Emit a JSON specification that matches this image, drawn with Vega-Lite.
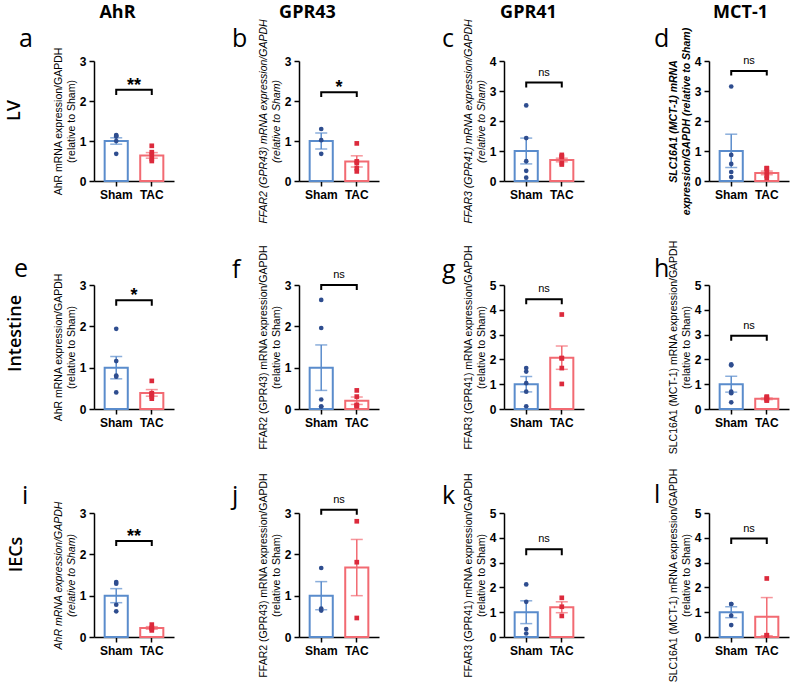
{
"$schema": "https://vega.github.io/schema/vega-lite/v6.json",
"background": "white",
"padding": {"left": 5, "top": 3, "right": 5, "bottom": 5},
"datasets": {"d": [
{"t":"p","p":"a","g":"Sham","v":1.13},{"t":"p","p":"a","g":"Sham","v":1.15},{"t":"p","p":"a","g":"Sham","v":1.11},{"t":"p","p":"a","g":"Sham","v":1.0},{"t":"p","p":"a","g":"Sham","v":0.68},
{"t":"p","p":"a","g":"TAC","v":0.88},{"t":"p","p":"a","g":"TAC","v":0.72},{"t":"p","p":"a","g":"TAC","v":0.65},{"t":"p","p":"a","g":"TAC","v":0.55},{"t":"p","p":"a","g":"TAC","v":0.5},
{"t":"p","p":"b","g":"Sham","v":1.3},{"t":"p","p":"b","g":"Sham","v":1.02},{"t":"p","p":"b","g":"Sham","v":0.68},
{"t":"p","p":"b","g":"TAC","v":0.94},{"t":"p","p":"b","g":"TAC","v":0.49},{"t":"p","p":"b","g":"TAC","v":0.45},{"t":"p","p":"b","g":"TAC","v":0.32},{"t":"p","p":"b","g":"TAC","v":0.24},
{"t":"p","p":"c","g":"Sham","v":2.52},{"t":"p","p":"c","g":"Sham","v":1.43},{"t":"p","p":"c","g":"Sham","v":0.66},{"t":"p","p":"c","g":"Sham","v":0.34},{"t":"p","p":"c","g":"Sham","v":0.11},
{"t":"p","p":"c","g":"TAC","v":0.87},{"t":"p","p":"c","g":"TAC","v":0.82},{"t":"p","p":"c","g":"TAC","v":0.8},{"t":"p","p":"c","g":"TAC","v":0.6},{"t":"p","p":"c","g":"TAC","v":0.55},
{"t":"p","p":"d","g":"Sham","v":3.15},{"t":"p","p":"d","g":"Sham","v":0.87},{"t":"p","p":"d","g":"Sham","v":0.57},{"t":"p","p":"d","g":"Sham","v":0.3},{"t":"p","p":"d","g":"Sham","v":0.13},
{"t":"p","p":"d","g":"TAC","v":0.43},{"t":"p","p":"d","g":"TAC","v":0.42},{"t":"p","p":"d","g":"TAC","v":0.3},{"t":"p","p":"d","g":"TAC","v":0.17},{"t":"p","p":"d","g":"TAC","v":0.1},
{"t":"p","p":"e","g":"Sham","v":1.94},{"t":"p","p":"e","g":"Sham","v":1.16},{"t":"p","p":"e","g":"Sham","v":0.81},{"t":"p","p":"e","g":"Sham","v":0.78},{"t":"p","p":"e","g":"Sham","v":0.4},
{"t":"p","p":"e","g":"TAC","v":0.68},{"t":"p","p":"e","g":"TAC","v":0.38},{"t":"p","p":"e","g":"TAC","v":0.36},{"t":"p","p":"e","g":"TAC","v":0.3},{"t":"p","p":"e","g":"TAC","v":0.25},
{"t":"p","p":"f","g":"Sham","v":2.64},{"t":"p","p":"f","g":"Sham","v":1.96},{"t":"p","p":"f","g":"Sham","v":0.23},{"t":"p","p":"f","g":"Sham","v":0.06},{"t":"p","p":"f","g":"Sham","v":0.06},
{"t":"p","p":"f","g":"TAC","v":0.45},{"t":"p","p":"f","g":"TAC","v":0.3},{"t":"p","p":"f","g":"TAC","v":0.1},{"t":"p","p":"f","g":"TAC","v":0.08},{"t":"p","p":"f","g":"TAC","v":0.07},
{"t":"p","p":"g","g":"Sham","v":1.65},{"t":"p","p":"g","g":"Sham","v":1.51},{"t":"p","p":"g","g":"Sham","v":1.04},{"t":"p","p":"g","g":"Sham","v":0.7},{"t":"p","p":"g","g":"Sham","v":0.11},
{"t":"p","p":"g","g":"TAC","v":3.81},{"t":"p","p":"g","g":"TAC","v":2.05},{"t":"p","p":"g","g":"TAC","v":2.05},{"t":"p","p":"g","g":"TAC","v":1.65},{"t":"p","p":"g","g":"TAC","v":1.01},
{"t":"p","p":"h","g":"Sham","v":1.8},{"t":"p","p":"h","g":"Sham","v":1.76},{"t":"p","p":"h","g":"Sham","v":0.7},{"t":"p","p":"h","g":"Sham","v":0.64},{"t":"p","p":"h","g":"Sham","v":0.27},
{"t":"p","p":"h","g":"TAC","v":0.5},{"t":"p","p":"h","g":"TAC","v":0.47},{"t":"p","p":"h","g":"TAC","v":0.42},{"t":"p","p":"h","g":"TAC","v":0.36},{"t":"p","p":"h","g":"TAC","v":0.34},
{"t":"p","p":"i","g":"Sham","v":1.33},{"t":"p","p":"i","g":"Sham","v":1.29},{"t":"p","p":"i","g":"Sham","v":0.78},{"t":"p","p":"i","g":"Sham","v":0.62},
{"t":"p","p":"i","g":"TAC","v":0.3},{"t":"p","p":"i","g":"TAC","v":0.22},{"t":"p","p":"i","g":"TAC","v":0.2},{"t":"p","p":"i","g":"TAC","v":0.16},
{"t":"p","p":"j","g":"Sham","v":1.67},{"t":"p","p":"j","g":"Sham","v":0.69},{"t":"p","p":"j","g":"Sham","v":0.64},
{"t":"p","p":"j","g":"TAC","v":2.8},{"t":"p","p":"j","g":"TAC","v":1.81},{"t":"p","p":"j","g":"TAC","v":0.46},
{"t":"p","p":"k","g":"Sham","v":2.12},{"t":"p","p":"k","g":"Sham","v":1.42},{"t":"p","p":"k","g":"Sham","v":0.32},{"t":"p","p":"k","g":"Sham","v":0.14},
{"t":"p","p":"k","g":"TAC","v":1.58},{"t":"p","p":"k","g":"TAC","v":1.22},{"t":"p","p":"k","g":"TAC","v":0.85},
{"t":"p","p":"l","g":"Sham","v":1.33},{"t":"p","p":"l","g":"Sham","v":1.33},{"t":"p","p":"l","g":"Sham","v":0.86},{"t":"p","p":"l","g":"Sham","v":0.48},
{"t":"p","p":"l","g":"TAC","v":2.36},{"t":"p","p":"l","g":"TAC","v":0.07},{"t":"p","p":"l","g":"TAC","v":0.07},
{"t":"m","p":"a","g":"Sham","v":1.0,"lo":0.92,"hi":1.08},{"t":"m","p":"a","g":"TAC","v":0.64,"lo":0.57,"hi":0.71},
{"t":"m","p":"b","g":"Sham","v":1.0,"lo":0.8,"hi":1.2},{"t":"m","p":"b","g":"TAC","v":0.49,"lo":0.35,"hi":0.63},
{"t":"m","p":"c","g":"Sham","v":1.0,"lo":0.57,"hi":1.43},{"t":"m","p":"c","g":"TAC","v":0.7,"lo":0.64,"hi":0.76},
{"t":"m","p":"d","g":"Sham","v":1.0,"lo":0.45,"hi":1.56},{"t":"m","p":"d","g":"TAC","v":0.27,"lo":0.21,"hi":0.33},
{"t":"m","p":"e","g":"Sham","v":1.0,"lo":0.73,"hi":1.27},{"t":"m","p":"e","g":"TAC","v":0.39,"lo":0.31,"hi":0.47},
{"t":"m","p":"f","g":"Sham","v":1.0,"lo":0.45,"hi":1.55},{"t":"m","p":"f","g":"TAC","v":0.2,"lo":0.11,"hi":0.29},
{"t":"m","p":"g","g":"Sham","v":1.0,"lo":0.69,"hi":1.31},{"t":"m","p":"g","g":"TAC","v":2.07,"lo":1.6,"hi":2.54},
{"t":"m","p":"h","g":"Sham","v":1.0,"lo":0.68,"hi":1.32},{"t":"m","p":"h","g":"TAC","v":0.41,"lo":0.38,"hi":0.44},
{"t":"m","p":"i","g":"Sham","v":1.0,"lo":0.83,"hi":1.17},{"t":"m","p":"i","g":"TAC","v":0.22,"lo":0.19,"hi":0.25},
{"t":"m","p":"j","g":"Sham","v":1.0,"lo":0.66,"hi":1.34},{"t":"m","p":"j","g":"TAC","v":1.68,"lo":1.0,"hi":2.36},
{"t":"m","p":"k","g":"Sham","v":1.0,"lo":0.54,"hi":1.46},{"t":"m","p":"k","g":"TAC","v":1.2,"lo":0.98,"hi":1.42},
{"t":"m","p":"l","g":"Sham","v":1.0,"lo":0.78,"hi":1.22},{"t":"m","p":"l","g":"TAC","v":0.82,"lo":0.05,"hi":1.59},
{"t":"b","p":"a","g":"Sham","v":2.15,"k":1},{"t":"b","p":"a","g":"Sham","v":2.28,"k":2},{"t":"b","p":"a","g":"TAC","v":2.28,"k":3},{"t":"b","p":"a","g":"TAC","v":2.15,"k":4},
{"t":"b","p":"b","g":"Sham","v":2.1,"k":1},{"t":"b","p":"b","g":"Sham","v":2.22,"k":2},{"t":"b","p":"b","g":"TAC","v":2.22,"k":3},{"t":"b","p":"b","g":"TAC","v":2.1,"k":4},
{"t":"b","p":"c","g":"Sham","v":3.12,"k":1},{"t":"b","p":"c","g":"Sham","v":3.28,"k":2},{"t":"b","p":"c","g":"TAC","v":3.28,"k":3},{"t":"b","p":"c","g":"TAC","v":3.12,"k":4},
{"t":"b","p":"d","g":"Sham","v":3.52,"k":1},{"t":"b","p":"d","g":"Sham","v":3.67,"k":2},{"t":"b","p":"d","g":"TAC","v":3.67,"k":3},{"t":"b","p":"d","g":"TAC","v":3.52,"k":4},
{"t":"b","p":"e","g":"Sham","v":2.5,"k":1},{"t":"b","p":"e","g":"Sham","v":2.63,"k":2},{"t":"b","p":"e","g":"TAC","v":2.63,"k":3},{"t":"b","p":"e","g":"TAC","v":2.5,"k":4},
{"t":"b","p":"f","g":"Sham","v":2.88,"k":1},{"t":"b","p":"f","g":"Sham","v":3.0,"k":2},{"t":"b","p":"f","g":"TAC","v":3.0,"k":3},{"t":"b","p":"f","g":"TAC","v":2.88,"k":4},
{"t":"b","p":"g","g":"Sham","v":4.22,"k":1},{"t":"b","p":"g","g":"Sham","v":4.43,"k":2},{"t":"b","p":"g","g":"TAC","v":4.43,"k":3},{"t":"b","p":"g","g":"TAC","v":4.22,"k":4},
{"t":"b","p":"h","g":"Sham","v":2.75,"k":1},{"t":"b","p":"h","g":"Sham","v":2.95,"k":2},{"t":"b","p":"h","g":"TAC","v":2.95,"k":3},{"t":"b","p":"h","g":"TAC","v":2.75,"k":4},
{"t":"b","p":"i","g":"Sham","v":2.2,"k":1},{"t":"b","p":"i","g":"Sham","v":2.32,"k":2},{"t":"b","p":"i","g":"TAC","v":2.32,"k":3},{"t":"b","p":"i","g":"TAC","v":2.2,"k":4},
{"t":"b","p":"j","g":"Sham","v":2.96,"k":1},{"t":"b","p":"j","g":"Sham","v":3.08,"k":2},{"t":"b","p":"j","g":"TAC","v":3.08,"k":3},{"t":"b","p":"j","g":"TAC","v":2.96,"k":4},
{"t":"b","p":"k","g":"Sham","v":3.3,"k":1},{"t":"b","p":"k","g":"Sham","v":3.54,"k":2},{"t":"b","p":"k","g":"TAC","v":3.54,"k":3},{"t":"b","p":"k","g":"TAC","v":3.3,"k":4},
{"t":"b","p":"l","g":"Sham","v":3.75,"k":1},{"t":"b","p":"l","g":"Sham","v":3.97,"k":2},{"t":"b","p":"l","g":"TAC","v":3.97,"k":3},{"t":"b","p":"l","g":"TAC","v":3.75,"k":4},
{"t":"l","p":"a","v":2.28,"s":"**"},{"t":"l","p":"b","v":2.22,"s":"*"},{"t":"l","p":"c","v":3.28,"s":"ns"},{"t":"l","p":"d","v":3.67,"s":"ns"},
{"t":"l","p":"e","v":2.63,"s":"*"},{"t":"l","p":"f","v":3.0,"s":"ns"},{"t":"l","p":"g","v":4.43,"s":"ns"},{"t":"l","p":"h","v":2.95,"s":"ns"},
{"t":"l","p":"i","v":2.32,"s":"**"},{"t":"l","p":"j","v":3.08,"s":"ns"},{"t":"l","p":"k","v":3.54,"s":"ns"},{"t":"l","p":"l","v":3.97,"s":"ns"}
]},
"columns": 4,
"bounds": "flush",
"align": "each",
"spacing": {"row": 104, "column": 125},
"concat": [
{"width":80,"height":120,"data":{"name":"d"},"transform":[{"filter":"datum.p=='a'"}],
 "title":{"text":"a","dx":-75,"offset":-49},
 "resolve":{"axis":{"x":"independent","y":"independent"}},
 "layer":[
  {"transform":[{"filter":"datum.t=='m'"}],"mark":{"type":"bar","fill":"white","strokeWidth":2},"encoding":{"x":{"field":"g","type":"nominal","axis":{"title":null}},"y":{"field":"v","type":"quantitative","scale":{"domain":[0,3]},"axis":{"values":[0,1,2,3],"title":["AhR mRNA expression/GAPDH","(relative to Sham)"]}},"stroke":{"field":"g","type":"nominal","scale":{"range":["#5a8ccc","#f26a72"]}}}},
  {"transform":[{"filter":"datum.t=='m'"}],"mark":{"type":"rule","strokeWidth":1.5},"encoding":{"x":{"field":"g","type":"nominal","axis":null},"y":{"field":"lo","type":"quantitative","axis":null},"y2":{"field":"hi"},"stroke":{"field":"g","type":"nominal"}}},
  {"transform":[{"filter":"datum.t=='m'"},{"fold":["lo","hi"]}],"mark":{"type":"tick","size":12,"thickness":1.5},"encoding":{"x":{"field":"g","type":"nominal","axis":null},"y":{"field":"value","type":"quantitative","axis":null},"fill":{"field":"g","type":"nominal","scale":{"range":["#5a8ccc","#f26a72"]}}}},
  {"transform":[{"filter":"datum.t=='p'"}],"mark":{"type":"point","filled":true,"size":22,"opacity":1},"encoding":{"x":{"field":"g","type":"nominal","axis":null},"y":{"field":"v","type":"quantitative","axis":null},"color":{"field":"g","type":"nominal"},"shape":{"field":"g","type":"nominal"}}},
  {"transform":[{"filter":"datum.t=='b'"}],"mark":{"type":"line","color":"black","strokeWidth":2},"encoding":{"x":{"field":"g","type":"nominal","axis":{"orient":"top","title":"AhR","titleX":23,"titleY":-49,"titleAlign":"center","titleBaseline":"middle","titleAngle":0,"titleFontSize":18,"titleFontWeight":"bold","titleFont":"Open Sans","titleColor":"black","labels":false,"ticks":false,"domain":false}},"y":{"field":"v","type":"quantitative","axis":{"orient":"right","title":"LV","titleX":-160,"titleY":49,"titleAngle":270,"titleAlign":"center","titleBaseline":"middle","titleFontSize":18,"titleFontWeight":600,"titleFont":"Open Sans","titleColor":"black","labels":false,"ticks":false,"domain":false}},"order":{"field":"k","type":"quantitative"}}},
  {"transform":[{"filter":"datum.t=='l'"}],"mark":{"type":"text","fontSize":18,"fontWeight":"bold","baseline":"alphabetic","dy":1},"encoding":{"y":{"field":"v","type":"quantitative","axis":null},"text":{"field":"s","type":"nominal"}}}
 ]},
{"width":80,"height":120,"data":{"name":"d"},"transform":[{"filter":"datum.p=='b'"}],
 "title":{"text":"b","dx":-67,"offset":-49},
 "resolve":{"axis":{"x":"independent","y":"independent"}},
 "layer":[
  {"transform":[{"filter":"datum.t=='m'"}],"mark":{"type":"bar","fill":"white","strokeWidth":2},"encoding":{"x":{"field":"g","type":"nominal","axis":{"title":null}},"y":{"field":"v","type":"quantitative","scale":{"domain":[0,3]},"axis":{"values":[0,1,2,3],"title":["FFAR2 (GPR43) mRNA expression/GAPDH","(relative to Sham)"],"titleFontStyle":"italic"}},"stroke":{"field":"g","type":"nominal","scale":{"range":["#5a8ccc","#f26a72"]}}}},
  {"transform":[{"filter":"datum.t=='m'"}],"mark":{"type":"rule","strokeWidth":1.5},"encoding":{"x":{"field":"g","type":"nominal","axis":null},"y":{"field":"lo","type":"quantitative","axis":null},"y2":{"field":"hi"},"stroke":{"field":"g","type":"nominal"}}},
  {"transform":[{"filter":"datum.t=='m'"},{"fold":["lo","hi"]}],"mark":{"type":"tick","size":12,"thickness":1.5},"encoding":{"x":{"field":"g","type":"nominal","axis":null},"y":{"field":"value","type":"quantitative","axis":null},"fill":{"field":"g","type":"nominal","scale":{"range":["#5a8ccc","#f26a72"]}}}},
  {"transform":[{"filter":"datum.t=='p'"}],"mark":{"type":"point","filled":true,"size":22,"opacity":1},"encoding":{"x":{"field":"g","type":"nominal","axis":null},"y":{"field":"v","type":"quantitative","axis":null},"color":{"field":"g","type":"nominal"},"shape":{"field":"g","type":"nominal"}}},
  {"transform":[{"filter":"datum.t=='b'"}],"mark":{"type":"line","color":"black","strokeWidth":2},"encoding":{"x":{"field":"g","type":"nominal","axis":{"orient":"top","title":"GPR43","titleX":8,"titleY":-49,"titleAlign":"center","titleBaseline":"middle","titleAngle":0,"titleFontSize":18,"titleFontWeight":"bold","titleFont":"Open Sans","titleColor":"black","labels":false,"ticks":false,"domain":false}},"y":{"field":"v","type":"quantitative","axis":null},"order":{"field":"k","type":"quantitative"}}},
  {"transform":[{"filter":"datum.t=='l'"}],"mark":{"type":"text","fontSize":18,"fontWeight":"bold","baseline":"alphabetic","dy":1},"encoding":{"y":{"field":"v","type":"quantitative","axis":null},"text":{"field":"s","type":"nominal"}}}
 ]},
{"width":80,"height":120,"data":{"name":"d"},"transform":[{"filter":"datum.p=='c'"}],
 "title":{"text":"c","dx":-62,"offset":-49},
 "resolve":{"axis":{"x":"independent","y":"independent"}},
 "layer":[
  {"transform":[{"filter":"datum.t=='m'"}],"mark":{"type":"bar","fill":"white","strokeWidth":2},"encoding":{"x":{"field":"g","type":"nominal","axis":{"title":null}},"y":{"field":"v","type":"quantitative","scale":{"domain":[0,4]},"axis":{"values":[0,1,2,3,4],"title":["FFAR3 (GPR41) mRNA expression/GAPDH","(relative to Sham)"],"titleFontStyle":"italic"}},"stroke":{"field":"g","type":"nominal","scale":{"range":["#5a8ccc","#f26a72"]}}}},
  {"transform":[{"filter":"datum.t=='m'"}],"mark":{"type":"rule","strokeWidth":1.5},"encoding":{"x":{"field":"g","type":"nominal","axis":null},"y":{"field":"lo","type":"quantitative","axis":null},"y2":{"field":"hi"},"stroke":{"field":"g","type":"nominal"}}},
  {"transform":[{"filter":"datum.t=='m'"},{"fold":["lo","hi"]}],"mark":{"type":"tick","size":12,"thickness":1.5},"encoding":{"x":{"field":"g","type":"nominal","axis":null},"y":{"field":"value","type":"quantitative","axis":null},"fill":{"field":"g","type":"nominal","scale":{"range":["#5a8ccc","#f26a72"]}}}},
  {"transform":[{"filter":"datum.t=='p'"}],"mark":{"type":"point","filled":true,"size":22,"opacity":1},"encoding":{"x":{"field":"g","type":"nominal","axis":null},"y":{"field":"v","type":"quantitative","axis":null},"color":{"field":"g","type":"nominal"},"shape":{"field":"g","type":"nominal"}}},
  {"transform":[{"filter":"datum.t=='b'"}],"mark":{"type":"line","color":"black","strokeWidth":2},"encoding":{"x":{"field":"g","type":"nominal","axis":{"orient":"top","title":"GPR41","titleX":24,"titleY":-49,"titleAlign":"center","titleBaseline":"middle","titleAngle":0,"titleFontSize":18,"titleFontWeight":"bold","titleFont":"Open Sans","titleColor":"black","labels":false,"ticks":false,"domain":false}},"y":{"field":"v","type":"quantitative","axis":null},"order":{"field":"k","type":"quantitative"}}},
  {"transform":[{"filter":"datum.t=='l'"}],"mark":{"type":"text","fontSize":11,"baseline":"alphabetic","dy":-7},"encoding":{"y":{"field":"v","type":"quantitative","axis":null},"text":{"field":"s","type":"nominal"}}}
 ]},
{"width":80,"height":120,"data":{"name":"d"},"transform":[{"filter":"datum.p=='d'"}],
 "title":{"text":"d","dx":-55,"offset":-49},
 "resolve":{"axis":{"x":"independent","y":"independent"}},
 "layer":[
  {"transform":[{"filter":"datum.t=='m'"}],"mark":{"type":"bar","fill":"white","strokeWidth":2},"encoding":{"x":{"field":"g","type":"nominal","axis":{"title":null}},"y":{"field":"v","type":"quantitative","scale":{"domain":[0,4]},"axis":{"values":[0,1,2,3,4],"title":["SLC16A1 (MCT-1) mRNA","expression/GAPDH (relative to Sham)"],"titleFontStyle":"italic","titleFontWeight":"bold"}},"stroke":{"field":"g","type":"nominal","scale":{"range":["#5a8ccc","#f26a72"]}}}},
  {"transform":[{"filter":"datum.t=='m'"}],"mark":{"type":"rule","strokeWidth":1.5},"encoding":{"x":{"field":"g","type":"nominal","axis":null},"y":{"field":"lo","type":"quantitative","axis":null},"y2":{"field":"hi"},"stroke":{"field":"g","type":"nominal"}}},
  {"transform":[{"filter":"datum.t=='m'"},{"fold":["lo","hi"]}],"mark":{"type":"tick","size":12,"thickness":1.5},"encoding":{"x":{"field":"g","type":"nominal","axis":null},"y":{"field":"value","type":"quantitative","axis":null},"fill":{"field":"g","type":"nominal","scale":{"range":["#5a8ccc","#f26a72"]}}}},
  {"transform":[{"filter":"datum.t=='p'"}],"mark":{"type":"point","filled":true,"size":22,"opacity":1},"encoding":{"x":{"field":"g","type":"nominal","axis":null},"y":{"field":"v","type":"quantitative","axis":null},"color":{"field":"g","type":"nominal"},"shape":{"field":"g","type":"nominal"}}},
  {"transform":[{"filter":"datum.t=='b'"}],"mark":{"type":"line","color":"black","strokeWidth":2},"encoding":{"x":{"field":"g","type":"nominal","axis":{"orient":"top","title":"MCT-1","titleX":31,"titleY":-49,"titleAlign":"center","titleBaseline":"middle","titleAngle":0,"titleFontSize":18,"titleFontWeight":"bold","titleFont":"Open Sans","titleColor":"black","labels":false,"ticks":false,"domain":false}},"y":{"field":"v","type":"quantitative","axis":null},"order":{"field":"k","type":"quantitative"}}},
  {"transform":[{"filter":"datum.t=='l'"}],"mark":{"type":"text","fontSize":11,"baseline":"alphabetic","dy":-7},"encoding":{"y":{"field":"v","type":"quantitative","axis":null},"text":{"field":"s","type":"nominal"}}}
 ]},
{"width":80,"height":124,"data":{"name":"d"},"transform":[{"filter":"datum.p=='e'"}],
 "title":{"text":"e","dx":-80,"offset":-9},
 "resolve":{"axis":{"x":"independent","y":"independent"}},
 "layer":[
  {"transform":[{"filter":"datum.t=='m'"}],"mark":{"type":"bar","fill":"white","strokeWidth":2},"encoding":{"x":{"field":"g","type":"nominal","axis":{"title":null}},"y":{"field":"v","type":"quantitative","scale":{"domain":[0,3]},"axis":{"values":[0,1,2,3],"title":["AhR mRNA expression/GAPDH","(relative to Sham)"]}},"stroke":{"field":"g","type":"nominal","scale":{"range":["#5a8ccc","#f26a72"]}}}},
  {"transform":[{"filter":"datum.t=='m'"}],"mark":{"type":"rule","strokeWidth":1.5},"encoding":{"x":{"field":"g","type":"nominal","axis":null},"y":{"field":"lo","type":"quantitative","axis":null},"y2":{"field":"hi"},"stroke":{"field":"g","type":"nominal"}}},
  {"transform":[{"filter":"datum.t=='m'"},{"fold":["lo","hi"]}],"mark":{"type":"tick","size":12,"thickness":1.5},"encoding":{"x":{"field":"g","type":"nominal","axis":null},"y":{"field":"value","type":"quantitative","axis":null},"fill":{"field":"g","type":"nominal","scale":{"range":["#5a8ccc","#f26a72"]}}}},
  {"transform":[{"filter":"datum.t=='p'"}],"mark":{"type":"point","filled":true,"size":22,"opacity":1},"encoding":{"x":{"field":"g","type":"nominal","axis":null},"y":{"field":"v","type":"quantitative","axis":null},"color":{"field":"g","type":"nominal"},"shape":{"field":"g","type":"nominal"}}},
  {"transform":[{"filter":"datum.t=='b'"}],"mark":{"type":"line","color":"black","strokeWidth":2},"encoding":{"x":{"field":"g","type":"nominal","axis":null},"y":{"field":"v","type":"quantitative","axis":{"orient":"right","title":"Intestine","titleX":-159,"titleY":48,"titleAngle":270,"titleAlign":"center","titleBaseline":"middle","titleFontSize":18,"titleFontWeight":600,"titleFont":"Open Sans","titleColor":"black","labels":false,"ticks":false,"domain":false}},"order":{"field":"k","type":"quantitative"}}},
  {"transform":[{"filter":"datum.t=='l'"}],"mark":{"type":"text","fontSize":18,"fontWeight":"bold","baseline":"alphabetic","dy":1},"encoding":{"y":{"field":"v","type":"quantitative","axis":null},"text":{"field":"s","type":"nominal"}}}
 ]},
{"width":80,"height":124,"data":{"name":"d"},"transform":[{"filter":"datum.p=='f'"}],
 "title":{"text":"f","dx":-67,"offset":-38},
 "resolve":{"axis":{"x":"independent","y":"independent"}},
 "layer":[
  {"transform":[{"filter":"datum.t=='m'"}],"mark":{"type":"bar","fill":"white","strokeWidth":2},"encoding":{"x":{"field":"g","type":"nominal","axis":{"title":null}},"y":{"field":"v","type":"quantitative","scale":{"domain":[0,3]},"axis":{"values":[0,1,2,3],"title":["FFAR2 (GPR43) mRNA expression/GAPDH","(relative to Sham)"]}},"stroke":{"field":"g","type":"nominal","scale":{"range":["#5a8ccc","#f26a72"]}}}},
  {"transform":[{"filter":"datum.t=='m'"}],"mark":{"type":"rule","strokeWidth":1.5},"encoding":{"x":{"field":"g","type":"nominal","axis":null},"y":{"field":"lo","type":"quantitative","axis":null},"y2":{"field":"hi"},"stroke":{"field":"g","type":"nominal"}}},
  {"transform":[{"filter":"datum.t=='m'"},{"fold":["lo","hi"]}],"mark":{"type":"tick","size":12,"thickness":1.5},"encoding":{"x":{"field":"g","type":"nominal","axis":null},"y":{"field":"value","type":"quantitative","axis":null},"fill":{"field":"g","type":"nominal","scale":{"range":["#5a8ccc","#f26a72"]}}}},
  {"transform":[{"filter":"datum.t=='p'"}],"mark":{"type":"point","filled":true,"size":22,"opacity":1},"encoding":{"x":{"field":"g","type":"nominal","axis":null},"y":{"field":"v","type":"quantitative","axis":null},"color":{"field":"g","type":"nominal"},"shape":{"field":"g","type":"nominal"}}},
  {"transform":[{"filter":"datum.t=='b'"}],"mark":{"type":"line","color":"black","strokeWidth":2},"encoding":{"x":{"field":"g","type":"nominal","axis":null},"y":{"field":"v","type":"quantitative","axis":null},"order":{"field":"k","type":"quantitative"}}},
  {"transform":[{"filter":"datum.t=='l'"}],"mark":{"type":"text","fontSize":11,"baseline":"alphabetic","dy":-7},"encoding":{"y":{"field":"v","type":"quantitative","axis":null},"text":{"field":"s","type":"nominal"}}}
 ]},
{"width":80,"height":124,"data":{"name":"d"},"transform":[{"filter":"datum.p=='g'"}],
 "title":{"text":"g","dx":-62,"offset":-38},
 "resolve":{"axis":{"x":"independent","y":"independent"}},
 "layer":[
  {"transform":[{"filter":"datum.t=='m'"}],"mark":{"type":"bar","fill":"white","strokeWidth":2},"encoding":{"x":{"field":"g","type":"nominal","axis":{"title":null}},"y":{"field":"v","type":"quantitative","scale":{"domain":[0,5]},"axis":{"values":[0,1,2,3,4,5],"title":["FFAR3 (GPR41) mRNA expression/GAPDH","(relative to Sham)"]}},"stroke":{"field":"g","type":"nominal","scale":{"range":["#5a8ccc","#f26a72"]}}}},
  {"transform":[{"filter":"datum.t=='m'"}],"mark":{"type":"rule","strokeWidth":1.5},"encoding":{"x":{"field":"g","type":"nominal","axis":null},"y":{"field":"lo","type":"quantitative","axis":null},"y2":{"field":"hi"},"stroke":{"field":"g","type":"nominal"}}},
  {"transform":[{"filter":"datum.t=='m'"},{"fold":["lo","hi"]}],"mark":{"type":"tick","size":12,"thickness":1.5},"encoding":{"x":{"field":"g","type":"nominal","axis":null},"y":{"field":"value","type":"quantitative","axis":null},"fill":{"field":"g","type":"nominal","scale":{"range":["#5a8ccc","#f26a72"]}}}},
  {"transform":[{"filter":"datum.t=='p'"}],"mark":{"type":"point","filled":true,"size":22,"opacity":1},"encoding":{"x":{"field":"g","type":"nominal","axis":null},"y":{"field":"v","type":"quantitative","axis":null},"color":{"field":"g","type":"nominal"},"shape":{"field":"g","type":"nominal"}}},
  {"transform":[{"filter":"datum.t=='b'"}],"mark":{"type":"line","color":"black","strokeWidth":2},"encoding":{"x":{"field":"g","type":"nominal","axis":null},"y":{"field":"v","type":"quantitative","axis":null},"order":{"field":"k","type":"quantitative"}}},
  {"transform":[{"filter":"datum.t=='l'"}],"mark":{"type":"text","fontSize":11,"baseline":"alphabetic","dy":-7},"encoding":{"y":{"field":"v","type":"quantitative","axis":null},"text":{"field":"s","type":"nominal"}}}
 ]},
{"width":80,"height":124,"data":{"name":"d"},"transform":[{"filter":"datum.p=='h'"}],
 "title":{"text":"h","dx":-55,"offset":-42},
 "resolve":{"axis":{"x":"independent","y":"independent"}},
 "layer":[
  {"transform":[{"filter":"datum.t=='m'"}],"mark":{"type":"bar","fill":"white","strokeWidth":2},"encoding":{"x":{"field":"g","type":"nominal","axis":{"title":null}},"y":{"field":"v","type":"quantitative","scale":{"domain":[0,5]},"axis":{"values":[0,1,2,3,4,5],"title":["SLC16A1 (MCT-1) mRNA expression/GAPDH","(relative to Sham)"]}},"stroke":{"field":"g","type":"nominal","scale":{"range":["#5a8ccc","#f26a72"]}}}},
  {"transform":[{"filter":"datum.t=='m'"}],"mark":{"type":"rule","strokeWidth":1.5},"encoding":{"x":{"field":"g","type":"nominal","axis":null},"y":{"field":"lo","type":"quantitative","axis":null},"y2":{"field":"hi"},"stroke":{"field":"g","type":"nominal"}}},
  {"transform":[{"filter":"datum.t=='m'"},{"fold":["lo","hi"]}],"mark":{"type":"tick","size":12,"thickness":1.5},"encoding":{"x":{"field":"g","type":"nominal","axis":null},"y":{"field":"value","type":"quantitative","axis":null},"fill":{"field":"g","type":"nominal","scale":{"range":["#5a8ccc","#f26a72"]}}}},
  {"transform":[{"filter":"datum.t=='p'"}],"mark":{"type":"point","filled":true,"size":22,"opacity":1},"encoding":{"x":{"field":"g","type":"nominal","axis":null},"y":{"field":"v","type":"quantitative","axis":null},"color":{"field":"g","type":"nominal"},"shape":{"field":"g","type":"nominal"}}},
  {"transform":[{"filter":"datum.t=='b'"}],"mark":{"type":"line","color":"black","strokeWidth":2},"encoding":{"x":{"field":"g","type":"nominal","axis":null},"y":{"field":"v","type":"quantitative","axis":null},"order":{"field":"k","type":"quantitative"}}},
  {"transform":[{"filter":"datum.t=='l'"}],"mark":{"type":"text","fontSize":11,"baseline":"alphabetic","dy":-7},"encoding":{"y":{"field":"v","type":"quantitative","axis":null},"text":{"field":"s","type":"nominal"}}}
 ]},
{"width":80,"height":124,"data":{"name":"d"},"transform":[{"filter":"datum.p=='i'"}],
 "title":{"text":"i","dx":-72,"offset":-8},
 "resolve":{"axis":{"x":"independent","y":"independent"}},
 "layer":[
  {"transform":[{"filter":"datum.t=='m'"}],"mark":{"type":"bar","fill":"white","strokeWidth":2},"encoding":{"x":{"field":"g","type":"nominal","axis":{"title":null}},"y":{"field":"v","type":"quantitative","scale":{"domain":[0,3]},"axis":{"values":[0,1,2,3],"title":["AhR mRNA expression/GAPDH","(relative to Sham)"],"titleFontStyle":"italic"}},"stroke":{"field":"g","type":"nominal","scale":{"range":["#5a8ccc","#f26a72"]}}}},
  {"transform":[{"filter":"datum.t=='m'"}],"mark":{"type":"rule","strokeWidth":1.5},"encoding":{"x":{"field":"g","type":"nominal","axis":null},"y":{"field":"lo","type":"quantitative","axis":null},"y2":{"field":"hi"},"stroke":{"field":"g","type":"nominal"}}},
  {"transform":[{"filter":"datum.t=='m'"},{"fold":["lo","hi"]}],"mark":{"type":"tick","size":12,"thickness":1.5},"encoding":{"x":{"field":"g","type":"nominal","axis":null},"y":{"field":"value","type":"quantitative","axis":null},"fill":{"field":"g","type":"nominal","scale":{"range":["#5a8ccc","#f26a72"]}}}},
  {"transform":[{"filter":"datum.t=='p'"}],"mark":{"type":"point","filled":true,"size":22,"opacity":1},"encoding":{"x":{"field":"g","type":"nominal","axis":null},"y":{"field":"v","type":"quantitative","axis":null},"color":{"field":"g","type":"nominal"},"shape":{"field":"g","type":"nominal"}}},
  {"transform":[{"filter":"datum.t=='b'"}],"mark":{"type":"line","color":"black","strokeWidth":2},"encoding":{"x":{"field":"g","type":"nominal","axis":null},"y":{"field":"v","type":"quantitative","axis":{"orient":"right","title":"IECs","titleX":-158,"titleY":41,"titleAngle":270,"titleAlign":"center","titleBaseline":"middle","titleFontSize":18,"titleFontWeight":600,"titleFont":"Open Sans","titleColor":"black","labels":false,"ticks":false,"domain":false}},"order":{"field":"k","type":"quantitative"}}},
  {"transform":[{"filter":"datum.t=='l'"}],"mark":{"type":"text","fontSize":18,"fontWeight":"bold","baseline":"alphabetic","dy":1},"encoding":{"y":{"field":"v","type":"quantitative","axis":null},"text":{"field":"s","type":"nominal"}}}
 ]},
{"width":80,"height":124,"data":{"name":"d"},"transform":[{"filter":"datum.p=='j'"}],
 "title":{"text":"j","dx":-67,"offset":-36},
 "resolve":{"axis":{"x":"independent","y":"independent"}},
 "layer":[
  {"transform":[{"filter":"datum.t=='m'"}],"mark":{"type":"bar","fill":"white","strokeWidth":2},"encoding":{"x":{"field":"g","type":"nominal","axis":{"title":null}},"y":{"field":"v","type":"quantitative","scale":{"domain":[0,3]},"axis":{"values":[0,1,2,3],"title":["FFAR2 (GPR43) mRNA expression/GAPDH","(relative to Sham)"]}},"stroke":{"field":"g","type":"nominal","scale":{"range":["#5a8ccc","#f26a72"]}}}},
  {"transform":[{"filter":"datum.t=='m'"}],"mark":{"type":"rule","strokeWidth":1.5},"encoding":{"x":{"field":"g","type":"nominal","axis":null},"y":{"field":"lo","type":"quantitative","axis":null},"y2":{"field":"hi"},"stroke":{"field":"g","type":"nominal"}}},
  {"transform":[{"filter":"datum.t=='m'"},{"fold":["lo","hi"]}],"mark":{"type":"tick","size":12,"thickness":1.5},"encoding":{"x":{"field":"g","type":"nominal","axis":null},"y":{"field":"value","type":"quantitative","axis":null},"fill":{"field":"g","type":"nominal","scale":{"range":["#5a8ccc","#f26a72"]}}}},
  {"transform":[{"filter":"datum.t=='p'"}],"mark":{"type":"point","filled":true,"size":22,"opacity":1},"encoding":{"x":{"field":"g","type":"nominal","axis":null},"y":{"field":"v","type":"quantitative","axis":null},"color":{"field":"g","type":"nominal"},"shape":{"field":"g","type":"nominal"}}},
  {"transform":[{"filter":"datum.t=='b'"}],"mark":{"type":"line","color":"black","strokeWidth":2},"encoding":{"x":{"field":"g","type":"nominal","axis":null},"y":{"field":"v","type":"quantitative","axis":null},"order":{"field":"k","type":"quantitative"}}},
  {"transform":[{"filter":"datum.t=='l'"}],"mark":{"type":"text","fontSize":11,"baseline":"alphabetic","dy":-7},"encoding":{"y":{"field":"v","type":"quantitative","axis":null},"text":{"field":"s","type":"nominal"}}}
 ]},
{"width":80,"height":124,"data":{"name":"d"},"transform":[{"filter":"datum.p=='k'"}],
 "title":{"text":"k","dx":-62,"offset":-36},
 "resolve":{"axis":{"x":"independent","y":"independent"}},
 "layer":[
  {"transform":[{"filter":"datum.t=='m'"}],"mark":{"type":"bar","fill":"white","strokeWidth":2},"encoding":{"x":{"field":"g","type":"nominal","axis":{"title":null}},"y":{"field":"v","type":"quantitative","scale":{"domain":[0,5]},"axis":{"values":[0,1,2,3,4,5],"title":["FFAR3 (GPR41) mRNA expression/GAPDH","(relative to Sham)"]}},"stroke":{"field":"g","type":"nominal","scale":{"range":["#5a8ccc","#f26a72"]}}}},
  {"transform":[{"filter":"datum.t=='m'"}],"mark":{"type":"rule","strokeWidth":1.5},"encoding":{"x":{"field":"g","type":"nominal","axis":null},"y":{"field":"lo","type":"quantitative","axis":null},"y2":{"field":"hi"},"stroke":{"field":"g","type":"nominal"}}},
  {"transform":[{"filter":"datum.t=='m'"},{"fold":["lo","hi"]}],"mark":{"type":"tick","size":12,"thickness":1.5},"encoding":{"x":{"field":"g","type":"nominal","axis":null},"y":{"field":"value","type":"quantitative","axis":null},"fill":{"field":"g","type":"nominal","scale":{"range":["#5a8ccc","#f26a72"]}}}},
  {"transform":[{"filter":"datum.t=='p'"}],"mark":{"type":"point","filled":true,"size":22,"opacity":1},"encoding":{"x":{"field":"g","type":"nominal","axis":null},"y":{"field":"v","type":"quantitative","axis":null},"color":{"field":"g","type":"nominal"},"shape":{"field":"g","type":"nominal"}}},
  {"transform":[{"filter":"datum.t=='b'"}],"mark":{"type":"line","color":"black","strokeWidth":2},"encoding":{"x":{"field":"g","type":"nominal","axis":null},"y":{"field":"v","type":"quantitative","axis":null},"order":{"field":"k","type":"quantitative"}}},
  {"transform":[{"filter":"datum.t=='l'"}],"mark":{"type":"text","fontSize":11,"baseline":"alphabetic","dy":-7},"encoding":{"y":{"field":"v","type":"quantitative","axis":null},"text":{"field":"s","type":"nominal"}}}
 ]},
{"width":80,"height":124,"data":{"name":"d"},"transform":[{"filter":"datum.p=='l'"}],
 "title":{"text":"l","dx":-55,"offset":-40},
 "resolve":{"axis":{"x":"independent","y":"independent"}},
 "layer":[
  {"transform":[{"filter":"datum.t=='m'"}],"mark":{"type":"bar","fill":"white","strokeWidth":2},"encoding":{"x":{"field":"g","type":"nominal","axis":{"title":null}},"y":{"field":"v","type":"quantitative","scale":{"domain":[0,5]},"axis":{"values":[0,1,2,3,4,5],"title":["SLC16A1 (MCT-1) mRNA expression/GAPDH","(relative to Sham)"]}},"stroke":{"field":"g","type":"nominal","scale":{"range":["#5a8ccc","#f26a72"]}}}},
  {"transform":[{"filter":"datum.t=='m'"}],"mark":{"type":"rule","strokeWidth":1.5},"encoding":{"x":{"field":"g","type":"nominal","axis":null},"y":{"field":"lo","type":"quantitative","axis":null},"y2":{"field":"hi"},"stroke":{"field":"g","type":"nominal"}}},
  {"transform":[{"filter":"datum.t=='m'"},{"fold":["lo","hi"]}],"mark":{"type":"tick","size":12,"thickness":1.5},"encoding":{"x":{"field":"g","type":"nominal","axis":null},"y":{"field":"value","type":"quantitative","axis":null},"fill":{"field":"g","type":"nominal","scale":{"range":["#5a8ccc","#f26a72"]}}}},
  {"transform":[{"filter":"datum.t=='p'"}],"mark":{"type":"point","filled":true,"size":22,"opacity":1},"encoding":{"x":{"field":"g","type":"nominal","axis":null},"y":{"field":"v","type":"quantitative","axis":null},"color":{"field":"g","type":"nominal"},"shape":{"field":"g","type":"nominal"}}},
  {"transform":[{"filter":"datum.t=='b'"}],"mark":{"type":"line","color":"black","strokeWidth":2},"encoding":{"x":{"field":"g","type":"nominal","axis":null},"y":{"field":"v","type":"quantitative","axis":null},"order":{"field":"k","type":"quantitative"}}},
  {"transform":[{"filter":"datum.t=='l'"}],"mark":{"type":"text","fontSize":11,"baseline":"alphabetic","dy":-7},"encoding":{"y":{"field":"v","type":"quantitative","axis":null},"text":{"field":"s","type":"nominal"}}}
 ]}
],
"config": {
 "view": {"stroke": null},
 "font": "Liberation Sans",
 "legend": {"disable": true},
 "range": {"category": ["#2e4d8f", "#dc2a3c"], "symbol": ["circle", "square"]},
 "scale": {"bandPaddingInner": 0.35, "bandPaddingOuter": 0.3},
 "axis": {"grid": false, "domainColor": "black", "domainWidth": 1.5, "tickColor": "black", "tickWidth": 1.5, "tickSize": 5, "labelColor": "black", "labelFont": "Liberation Sans", "labelFontWeight": "bold", "labelFontSize": 12, "titleColor": "black", "titleFont": "Liberation Sans", "titleFontWeight": "normal", "titleFontSize": 10.5, "titlePadding": 3},
 "axisX": {"labelAngle": 0, "labelPadding": 3, "bandPosition": 0.5},
 "axisY": {"labelPadding": 3},
 "title": {"fontSize": 25, "fontWeight": "normal", "anchor": "start", "frame": "group", "color": "black", "font": "Open Sans"},
 "text": {"color": "black"}
}
}
